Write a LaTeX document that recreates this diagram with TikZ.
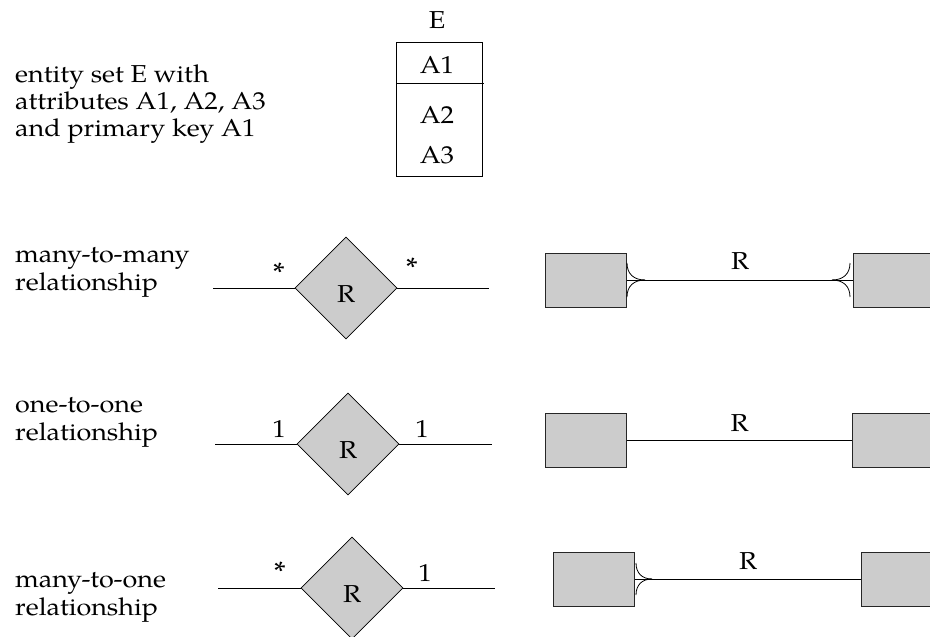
\documentclass[tikz,border=0pt]{standalone}
\usepackage{fontspec}
\setmainfont[FakeStretch=1.1]{TeX Gyre Pagella}
\usetikzlibrary{shapes.geometric}
\definecolor{fillgray}{RGB}{204,204,204}
\begin{document}
\begin{tikzpicture}[x=1pt,y=-1pt,
  every node/.style={font=\fontsize{24.5}{28}\selectfont},
  lbl/.style={anchor=base west,inner sep=0pt,align=left},
  ctr/.style={anchor=base,inner sep=0pt},
  rel/.style={diamond,draw=black,fill=fillgray,minimum width=102pt,minimum height=102pt,inner sep=0pt,line width=0.8pt},
  ent/.style={draw=black!85,fill=fillgray,minimum width=81pt,minimum height=54pt,inner sep=0pt,anchor=north west,line width=1.2pt},
  conn/.style={line width=0.9pt,draw=black},
  foot/.style={line width=0.8pt,draw=black},
  mult/.style={font=\fontsize{28}{28}\selectfont}]
\clip (0,0) rectangle (930,637);
\fill[white] (0,0) rectangle (930,637);

% entity set
\node[lbl] (t1) at (15,82) {entity set E with};
\node[lbl] (t2) at (15,109) {attributes A1, A2, A3};
\node[lbl] (t3) at (15,136) {and primary key A1};
\node[draw=black,line width=0.8pt,minimum width=86pt,minimum height=134pt,inner sep=0pt] (ebox) at (439,109) {};
\coordinate (dl) at (396,83);
\coordinate (dr) at (484,83);
\draw[line width=0.8pt] (dl) -- (dr);
\node[ctr] (eE) at (437,28) {E};
\node[ctr] (eA1) at (437,73) {A1};
\node[ctr] (eA2) at (437,123) {A2};
\node[ctr] (eA3) at (437,163) {A3};

% row 1: many-to-many
\node[lbl] (m1) at (15,262) {many-to-many};
\node[lbl] (m2) at (15,290) {relationship};
\node[rel] (d1) at (346,288) {};
\node (d1R) at (346,294) {R};
\coordinate (l1a) at (213,288);
\coordinate (l1b) at (489,288);
\draw[conn] (l1a) -- (d1.west);
\draw[conn] (d1.east) -- (l1b);
\node[mult] (s1a) at (279,273) {*};
\node[mult] (s1b) at (412,268) {*};

\node[ent] (e1a) at (545,253) {};
\node[ent] (e1b) at (853,253) {};
\draw[conn] (e1a.east) -- (e1b.west) node[midway,above=11pt,inner sep=0pt] (r1) {R};
\coordinate (f1a) at (645,280);
\draw[foot] (627,263) .. controls (627,274) and (634,280) .. (f1a);
\draw[foot] (627,297) .. controls (627,286) and (634,280) .. (f1a);
\coordinate (f1b) at (832,280);
\draw[foot] (850,263) .. controls (850,274) and (843,280) .. (f1b);
\draw[foot] (850,297) .. controls (850,286) and (843,280) .. (f1b);

% row 2: one-to-one
\node[lbl] (o1) at (15,412) {one-to-one};
\node[lbl] (o2) at (15,440) {relationship};
\node[rel] (d2) at (348,444) {};
\node (d2R) at (348,450) {R};
\coordinate (l2a) at (215,444);
\coordinate (l2b) at (492,444);
\draw[conn] (l2a) -- (d2.west);
\draw[conn] (d2.east) -- (l2b);
\node (n2a) at (279,429) {1};
\node (n2b) at (422,429) {1};

\node[ent] (e2a) at (545,413) {};
\node[ent] (e2b) at (852,413) {};
\draw[conn] (e2a.east) -- (e2b.west) node[midway,above=9pt,inner sep=0pt] (r2) {R};

% row 3: many-to-one
\node[lbl] (n1) at (15,587) {many-to-one};
\node[lbl] (n2) at (15,615) {relationship};
\node[rel] (d3) at (352,588) {};
\node (d3R) at (352,594) {R};
\coordinate (l3a) at (218,588);
\coordinate (l3b) at (495,588);
\draw[conn] (l3a) -- (d3.west);
\draw[conn] (d3.east) -- (l3b);
\node[mult] (s3a) at (280,572) {*};
\node (n3b) at (425,573) {1};

\node[ent] (e3a) at (553,552) {};
\node[ent] (e3b) at (861,552) {};
\draw[conn] (e3a.east) -- (e3b.west) node[midway,above=10pt,inner sep=0pt] (r3) {R};
\coordinate (f3a) at (652,579);
\draw[foot] (636,563) .. controls (636,573) and (642,579) .. (f3a);
\draw[foot] (636,595) .. controls (636,585) and (642,579) .. (f3a);
\end{tikzpicture}
\end{document}
